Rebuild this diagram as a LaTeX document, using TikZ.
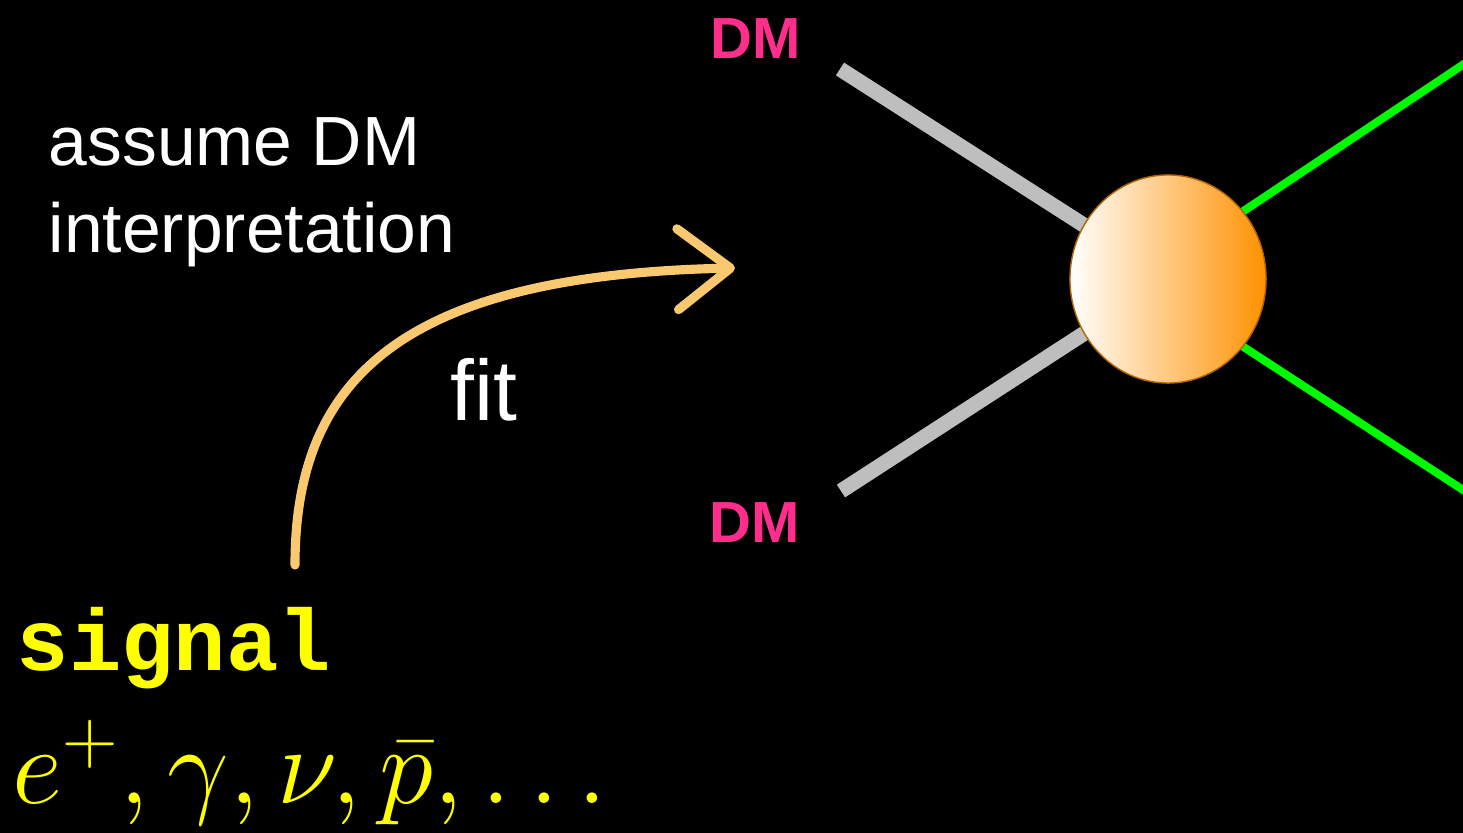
\RequirePackage{fix-cm}
\documentclass[tikz,border=0pt]{standalone}
\usepackage{fontspec}
\setmainfont{Liberation Sans}
\setmonofont{Liberation Mono}
\usetikzlibrary{arrows.meta,shapes.geometric}
\definecolor{dmpink}{RGB}{255,45,140}
\definecolor{chalkgray}{RGB}{190,190,190}
\definecolor{legreen}{RGB}{0,250,0}
\definecolor{fitorange}{RGB}{250,200,110}
\definecolor{blobedge}{RGB}{255,145,0}
\definecolor{sigyellow}{RGB}{255,255,0}
\pgfdeclarelayer{bg}
\pgfdeclarelayer{legs}
\pgfsetlayers{bg,legs,main}

\begin{document}
\begin{tikzpicture}[x=0.01cm,y=-0.01cm,
  txt/.style={inner sep=0pt,text=white},
  dmlabel/.style={inner sep=0pt,text=dmpink,font=\fontsize{16.5}{20}\selectfont\bfseries},
  dmleg/.style={draw=chalkgray,line width=4.3pt},
  outleg/.style={draw=legreen,line width=2.3pt,shorten <=-3pt},
  blob/.style={ellipse,minimum width=1.96cm,minimum height=2.08cm,inner sep=0pt,
    left color=white,right color=blobedge,draw=blobedge!70!black,line width=0.4pt}]

  % page
  \useasboundingbox (0,0) rectangle (1463,833);
  \begin{pgfonlayer}{bg}
    \fill[black] (0,0) rectangle (1463,833);
  \end{pgfonlayer}

  % texts
  \node[txt,align=left,anchor=north west,font=\fontsize{19.8}{24.75}\selectfont] (assume) at (48,117) {assume DM\\interpretation};
  \node[txt,anchor=base west,font=\fontsize{24.4}{29}\selectfont] (fit) at (450,420) {fit};
  \node[dmlabel,anchor=base] (dmtop) at (756,58) {DM};
  \node[dmlabel,anchor=base] (dmbot) at (755,542) {DM};
  \node[inner sep=0pt,anchor=base west,text=sigyellow,font=\fontsize{24.8}{30}\selectfont\ttfamily\bfseries] (signal) at (16,670) {signal};
  \node[inner sep=0pt,anchor=base west,text=sigyellow,font=\fontsize{31.2}{36}\selectfont] (particles) at (12,803) {$e^+, \gamma, \nu, \bar{p}, \ldots$};

  % vertex and legs
  \coordinate (dmtl) at (840,69);
  \coordinate (dmbl) at (841,491);
  \coordinate (gout1) at (1500,40);
  \coordinate (gout2) at (1500,514);
  \node[blob] (vertex) at (1168,279) {};
  \begin{pgfonlayer}{legs}
    \draw[dmleg] (dmtl) -- (vertex.center);
    \draw[dmleg] (dmbl) -- (vertex.center);
    \draw[outleg] (vertex.42) -- (gout1);
    \draw[outleg] (vertex.-42) -- (gout2);
  \end{pgfonlayer}

  % fit arrow
  \coordinate (fitstart) at (295,565);
  \coordinate (fitend) at (735,268);
  \draw[fitorange,line width=2.6pt,line cap=round,-{Straight Barb[round,length=15pt,width=23pt]}]
    (fitstart) .. controls (295,380) and (400,275) .. (fitend);
\end{tikzpicture}
\end{document}
